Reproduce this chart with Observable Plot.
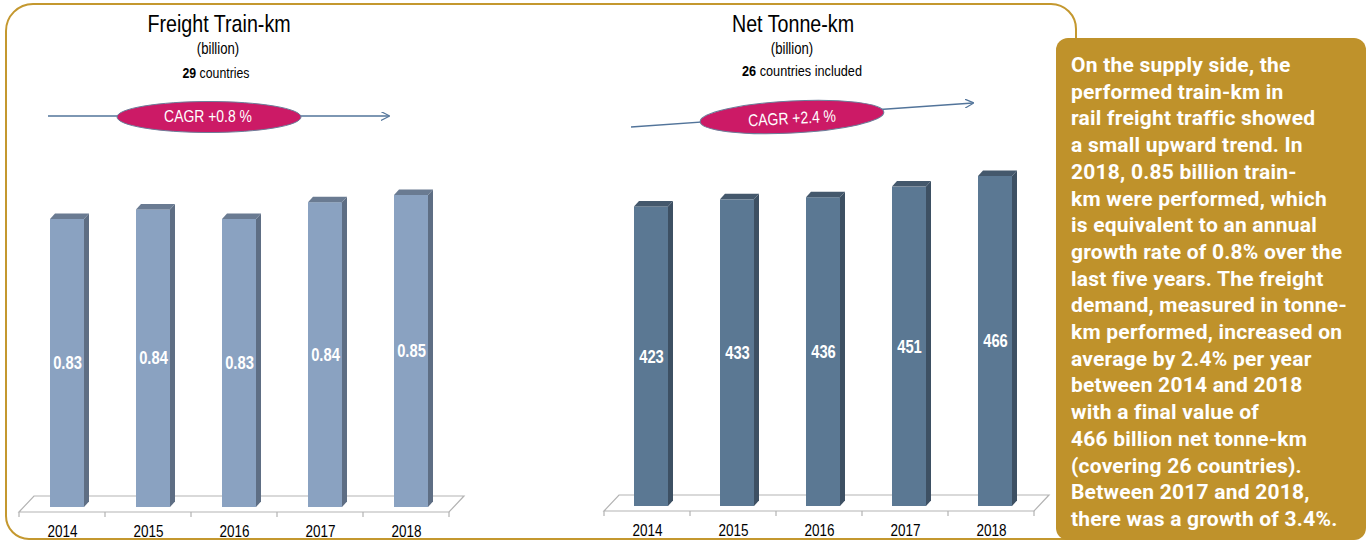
<!DOCTYPE html>
<html>
<head>
<meta charset="utf-8">
<script src="https://cdn.jsdelivr.net/npm/d3@7"></script>
<script src="https://cdn.jsdelivr.net/npm/@observablehq/plot@0.6"></script>
<style>
  body { margin: 0; background: #fff; }
  #page { position: relative; width: 1368px; height: 542px; overflow: hidden;
          font-family: "Liberation Sans", Arial, sans-serif; }
  .frame { position: absolute; left: 5px; top: 3px; width: 1072px; height: 537px; box-sizing: border-box;
           border: 2px solid #c4982f; border-radius: 28px 26px 0 24px; }
  .abs { position: absolute; }
  .note { position: absolute; left: 1056px; top: 38px; width: 310px; height: 502px; box-sizing: border-box;
          background: #bf922b; border-radius: 12px; padding: 14px 0 0 15px; color: #fff;
          font-family: Roboto, "Liberation Sans", sans-serif; font-weight: 700; font-size: 21px; line-height: 26.7px;
          letter-spacing: 0.22px; white-space: nowrap; }
</style>
</head>
<body>
<div id="page">
  <div class="frame"></div>
  <div id="left" class="abs" style="left:0;top:170px;"></div>
  <div id="right" class="abs" style="left:580px;top:170px;"></div>
  <svg id="header" class="abs" style="left:0;top:0;" width="1060" height="150"></svg>
  <div class="note" id="note"></div>
</div>
<script>
// ---------- data ----------
const years = ["2014", "2015", "2016", "2017", "2018"];
const trainKm = [0.830, 0.838, 0.830, 0.844, 0.850];   // billion train-km (labels rounded to 2 d.p.)
const tonneKm = [423, 433, 436, 451, 466];              // billion net tonne-km
const titles = ["Freight Train-km", "Net Tonne-km"];
const units = ["(billion)", "(billion)"];
const countryNotes = [["29", " countries"], ["26", " countries included"]];
const cagrLabels = ["CAGR +0.8 %", "CAGR +2.4 %"];
const noteLines = [
  "On the supply side, the",
  "performed train-km in",
  "rail freight traffic showed",
  "a small upward trend. In",
  "2018, 0.85 billion train-",
  "km were performed, which",
  "is equivalent to an annual",
  "growth rate of 0.8% over the",
  "last five years. The freight",
  "demand, measured in tonne-",
  "km performed, increased on",
  "average by 2.4% per year",
  "between 2014 and 2018",
  "with a final value of",
  "466 billion net tonne-km",
  "(covering 26 countries).",
  "Between 2017 and 2018,",
  "there was a growth of 3.4%."
];

const FONT = '"Liberation Sans", Arial, sans-serif';
const NARROW = 0.82;   // emulate a narrow sans (Arial Narrow look)

// condense every text element horizontally about its own anchor
function condense(root) {
  root.querySelectorAll("text").forEach(t => {
    const x = t.getAttribute("x");
    let tr = t.getAttribute("transform") || "";
    if (x !== null && /^-?[\d.]+$/.test(x.trim())) {
      tr += ` translate(${x},0)`;
      t.removeAttribute("x");
    }
    t.setAttribute("transform", (tr + ` scale(${NARROW},1)`).trim());
  });
}

function chart({values, base, top, width, xRange, yRange, marginBottom, insetL, insetR, shift,
                front, side, topc, fmt}) {
  const data = years.map((year, i) => ({year, value: values[i]}));
  const depth = [5, 5.5];
  const floorDepth = [15, 16];

  // 3D faces (side + top) computed through the plot's scales
  const faces = (index, scales) => {
    const x = scales.x, y = scales.y;
    const bw = x.bandwidth ? x.bandwidth() : (xRange[1] - xRange[0]) / years.length;
    const g = d3.create("svg:g");
    for (const d of data) {
      const x1 = x(d.year) + insetL, x2 = x(d.year) + bw - insetR;
      const yt = y(d.value), yb = y(base);
      const [dx, dy] = depth;
      g.append("path").attr("fill", side)
        .attr("d", `M${x2},${yb}L${x2 + dx},${yb - dy}L${x2 + dx},${yt - dy}L${x2},${yt}Z`);
      g.append("path").attr("fill", topc)
        .attr("d", `M${x1},${yt}L${x1 + dx},${yt - dy}L${x2 + dx},${yt - dy}L${x2},${yt}Z`);
    }
    return g.node();
  };

  // 3D floor, drawn from the band scale
  const floor = (index, scales) => {
    const x = scales.x, y = scales.y;
    const bw = x.bandwidth ? x.bandwidth() : (xRange[1] - xRange[0]) / years.length;
    const yf = y(base) + 5;
    const x0 = x(years[0]), x1 = x(years[years.length - 1]) + bw;
    const [fx, fy] = floorDepth;
    const g = d3.create("svg:g").attr("fill", "none").attr("stroke", "#b3b3b3").attr("stroke-width", 1.2);
    g.append("path").attr("d", `M${x0},${yf}L${x0 + fx},${yf - fy}L${x1 + fx},${yf - fy}L${x1},${yf}Z`);
    const edges = years.map(yr => x(yr)).concat([x1]);
    for (const e of edges) g.append("path").attr("d", `M${e},${yf}L${e},${yf + 5}`);
    return g.node();
  };

  const svg = Plot.plot({
    width, height: 372,
    marginTop: 0, marginBottom, marginLeft: 0, marginRight: 0,
    style: {fontFamily: FONT, fontSize: "16px", color: "#000", background: "transparent"},
    x: {domain: years, range: xRange, padding: 0, axis: null},
    y: {domain: [base, top], range: yRange, axis: null},
    marks: [
      floor,
      Plot.barY(data, {x: "year", y1: base, y2: "value", fill: front, insetLeft: insetL, insetRight: insetR}),
      faces,
      Plot.text(data, {x: "year", y: d => (d.value + base) / 2, text: d => fmt(d.value), dx: shift,
        fill: "white", fontWeight: "bold", fontSize: 18}),
      Plot.axisX({tickSize: 0, tickPadding: 13, fontSize: 16.5, label: null})
    ]
  });
  condense(svg);
  return svg;
}

document.getElementById("left").append(chart({
  values: trainKm, base: 0.59, top: 0.85, width: 480, xRange: [18, 449], yRange: [337, 25],
  marginBottom: 30, insetL: 31, insetR: 21, shift: 5,
  front: "#8aa2c1", side: "#5e6e84", topc: "#6a7b92", fmt: d3.format(".2f")
}));
document.getElementById("right").append(chart({
  values: tonneKm, base: 0, top: 466, width: 490, xRange: [24, 454], yRange: [336, 6],
  marginBottom: 31, insetL: 30, insetR: 22, shift: 4,
  front: "#5b7893", side: "#3d5063", topc: "#44586c", fmt: d3.format("d")
}));

// ---------- header (titles + CAGR annotations) ----------
const hdr = d3.select("#header").style("font-family", FONT);
const defs = hdr.append("defs");
defs.append("marker").attr("id", "ah").attr("viewBox", "0 0 10 10").attr("refX", 9).attr("refY", 5)
  .attr("markerWidth", 9).attr("markerHeight", 9).attr("markerUnits", "userSpaceOnUse").attr("orient", "auto")
  .append("path").attr("d", "M0,0L10,5L0,10").attr("fill", "none").attr("stroke", "#52749a").attr("stroke-width", 1.3);

const heads = [
  {cx: 219, cx2: 216, line: [48, 116, 389, 116], e: [209, 117, 92, 15.5, 0], t: [208, 122.5]},
  {cx: 793, cx2: 802, line: [631, 127, 973, 103], e: [792, 117, 92, 16, -3], t: [792, 124]}
];
heads.forEach((h, i) => {
  hdr.append("text").attr("x", h.cx).attr("y", 32).attr("text-anchor", "middle")
    .attr("font-size", 24).text(titles[i]);
  hdr.append("text").attr("x", h.cx - 1).attr("y", 54.5).attr("text-anchor", "middle")
    .attr("font-size", 16).text(units[i]);
  const t = hdr.append("text").attr("x", h.cx2).attr("y", i ? 76 : 78).attr("text-anchor", "middle")
    .attr("font-size", i ? 15.5 : 15);
  t.append("tspan").attr("font-weight", "bold").text(countryNotes[i][0]);
  t.append("tspan").text(countryNotes[i][1]);
  hdr.append("line").attr("x1", h.line[0]).attr("y1", h.line[1]).attr("x2", h.line[2]).attr("y2", h.line[3])
    .attr("stroke", "#52749a").attr("stroke-width", 1.4).attr("marker-end", "url(#ah)");
  const g = hdr.append("g").attr("transform", `rotate(${h.e[4]} ${h.e[0]} ${h.e[1]})`);
  g.append("ellipse").attr("cx", h.e[0]).attr("cy", h.e[1]).attr("rx", h.e[2]).attr("ry", h.e[3])
    .attr("fill", "#cc1a66").attr("stroke", "#6b7d99").attr("stroke-width", 1);
  g.append("text").attr("x", h.t[0]).attr("y", h.t[1]).attr("text-anchor", "middle")
    .attr("font-size", 17).attr("fill", "#fff").text(cagrLabels[i]);
});
condense(hdr.node());

// ---------- note box ----------
document.getElementById("note").innerHTML = noteLines.map(s => s.replace(/&/g, "&amp;")).join("<br>");
</script>
</body>
</html>
